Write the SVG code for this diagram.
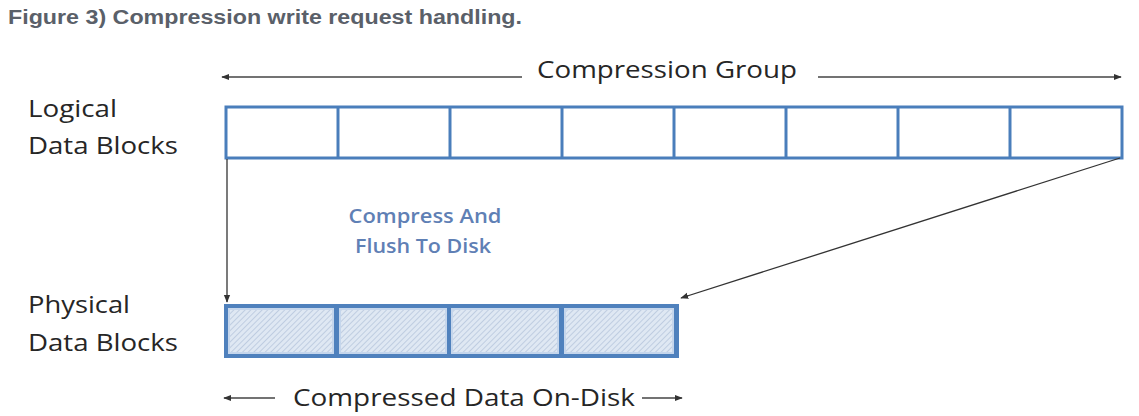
<svg xmlns="http://www.w3.org/2000/svg" width="1139" height="416" viewBox="0 0 1139 416">
<style>
.title{font-family:"Liberation Sans",Arial,sans-serif;font-weight:bold;font-size:20px;fill:#5a6069}
.lbl{font-family:"Open Sans","Noto Sans",sans-serif;font-size:24px;fill:#262626}
.note{font-family:"Open Sans","Noto Sans",sans-serif;font-weight:600;font-size:19px;fill:#5f80b5}
.blk{fill:#fff;stroke:#4a7ebb;stroke-width:3}
.cell{stroke:#4a7ebb;stroke-width:3}
.conn{stroke:#333;stroke-width:1.3;fill:none}
.dim{stroke:#444;stroke-width:1.3;fill:none}
</style>
<defs>
<marker id="ah" viewBox="0 0 10 10" refX="9" refY="5" markerWidth="8" markerHeight="8" markerUnits="userSpaceOnUse" orient="auto">
<path d="M0,1 L10,5 L0,9 Z" fill="#333"/>
</marker>
<pattern id="hatch" width="4" height="4" patternUnits="userSpaceOnUse" patternTransform="rotate(45)">
<rect width="4" height="4" fill="#dfe8f3"/>
<line x1="0" y1="0" x2="0" y2="4" stroke="#a9bcd6" stroke-width="1.2"/>
</pattern>
</defs>
<rect width="1139" height="416" fill="#fff"/>
<text class="title" x="8" y="24" textLength="514" lengthAdjust="spacingAndGlyphs">Figure 3) Compression write request handling.</text>

<g id="compression-group-dim">
<line class="dim" x1="522" y1="77" x2="222" y2="77" marker-end="url(#ah)"/>
<line class="dim" x1="818" y1="77" x2="1121" y2="77" marker-end="url(#ah)"/>
<text class="lbl" x="537" y="78" textLength="260" lengthAdjust="spacingAndGlyphs">Compression Group</text>
</g>

<g id="logical-label">
<text class="lbl" x="28" y="117" textLength="89" lengthAdjust="spacingAndGlyphs">Logical</text>
<text class="lbl" x="28" y="154" textLength="150" lengthAdjust="spacingAndGlyphs">Data Blocks</text>
</g>

<g id="logical-blocks">
<rect class="blk" x="226" y="107" width="896" height="51"/>
<line class="cell" x1="338" y1="107" x2="338" y2="158"/>
<line class="cell" x1="450" y1="107" x2="450" y2="158"/>
<line class="cell" x1="562" y1="107" x2="562" y2="158"/>
<line class="cell" x1="674" y1="107" x2="674" y2="158"/>
<line class="cell" x1="786" y1="107" x2="786" y2="158"/>
<line class="cell" x1="898" y1="107" x2="898" y2="158"/>
<line class="cell" x1="1010" y1="107" x2="1010" y2="158"/>
</g>

<g id="compress-note">
<text class="note" x="425" y="223" text-anchor="middle" textLength="153" lengthAdjust="spacingAndGlyphs">Compress And</text>
<text class="note" x="423" y="253" text-anchor="middle" textLength="136" lengthAdjust="spacingAndGlyphs">Flush To Disk</text>
</g>

<g id="physical-label">
<text class="lbl" x="28" y="313" textLength="102" lengthAdjust="spacingAndGlyphs">Physical</text>
<text class="lbl" x="28" y="351" textLength="150" lengthAdjust="spacingAndGlyphs">Data Blocks</text>
</g>

<g id="physical-blocks">
<rect x="224" y="304" width="455" height="54" fill="#4f81bd"/>
<rect x="229" y="309" width="104" height="44" fill="url(#hatch)" stroke="#c5d6ec" stroke-width="2"/>
<rect x="340" y="309" width="106" height="44" fill="url(#hatch)" stroke="#c5d6ec" stroke-width="2"/>
<rect x="452" y="309" width="106" height="44" fill="url(#hatch)" stroke="#c5d6ec" stroke-width="2"/>
<rect x="565" y="309" width="108" height="44" fill="url(#hatch)" stroke="#c5d6ec" stroke-width="2"/>
</g>

<g id="connectors">
<line class="conn" x1="227" y1="159" x2="227" y2="302" marker-end="url(#ah)"/>
<line class="conn" x1="1120" y1="158" x2="681" y2="298" marker-end="url(#ah)"/>
</g>

<g id="compressed-dim">
<line class="dim" x1="275" y1="398" x2="224" y2="398" marker-end="url(#ah)"/>
<line class="dim" x1="642" y1="398" x2="682" y2="398" marker-end="url(#ah)"/>
<text class="lbl" x="293" y="406" textLength="342" lengthAdjust="spacingAndGlyphs">Compressed Data On-Disk</text>
</g>
</svg>
